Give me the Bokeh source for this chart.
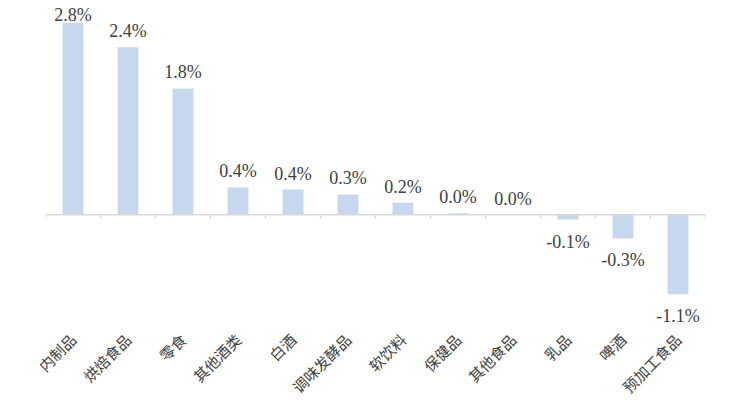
from bokeh.plotting import figure
from bokeh.models import ColumnDataSource, FixedTicker, Span, Range1d, LabelSet
from bokeh.embed import file_html
from bokeh.resources import INLINE
import math

# categories and growth values (%)
categories = ["内制品", "烘焙食品", "零食", "其他酒类", "白酒", "调味发酵品",
              "软饮料", "保健品", "其他食品", "乳品", "啤酒", "预加工食品"]
values = [2.75, 2.40, 1.81, 0.39, 0.36, 0.29, 0.17, 0.02, 0.0, -0.07, -0.34, -1.14]
labels = ["2.8%", "2.4%", "1.8%", "0.4%", "0.4%", "0.3%",
          "0.2%", "0.0%", "0.0%", "-0.1%", "-0.3%", "-1.1%"]

ymin, ymax = -1.66, 3.07
xs = [i + 0.5 for i in range(len(categories))]
src = ColumnDataSource(dict(x=xs, top=values, label=labels))

# labels sit above positive bars, below negative ones;
# a label that would run off the top is pushed down onto its bar
pos = [i for i in range(len(values)) if values[i] >= 0]
neg = [i for i in range(len(values)) if values[i] < 0]
pos_off = []
for i in pos:
    room = (ymax - values[i]) * 70
    pos_off.append(6 if room > 6 + 26 else 20 - room)
src_pos = ColumnDataSource(dict(x=[xs[i] for i in pos], y=[values[i] for i in pos],
                                label=[labels[i] for i in pos], off=pos_off))
src_neg = ColumnDataSource(dict(x=[xs[i] for i in neg], y=[values[i] for i in neg],
                                label=[labels[i] for i in neg]))

p = figure(width=743, height=407, output_backend="svg", toolbar_location=None,
           tools="", x_range=Range1d(0, len(categories)), y_range=Range1d(ymin, ymax))
p.min_border_left = 45
p.min_border_right = 38
p.min_border_top = 0
p.min_border_bottom = 0
p.outline_line_color = None
p.grid.visible = False
p.yaxis.visible = False

p.vbar(x="x", top="top", bottom=0, width=0.38, source=src,
       fill_color="#c6d7ee", line_color=None)

# zero line with little ticks between the categories
p.add_layout(Span(location=0, dimension="width", line_color="#d9d9d9", line_width=1.5))
bounds = list(range(len(categories) + 1))
p.segment(x0=bounds, x1=bounds, y0=[0] * len(bounds), y1=[-0.06] * len(bounds),
          line_color="#d9d9d9", line_width=1.5)

p.add_layout(LabelSet(x="x", y="y", text="label", source=src_pos, text_align="center",
                      text_baseline="bottom", y_offset="off", text_font="Liberation Serif",
                      text_font_size="18px", text_color="#404040"))
p.add_layout(LabelSet(x="x", y="y", text="label", source=src_neg, text_align="center",
                      text_baseline="top", y_offset=-12, text_font="Liberation Serif",
                      text_font_size="18px", text_color="#404040"))

ax = p.xaxis[0]
ax.ticker = FixedTicker(ticks=xs)
ax.major_label_overrides = {x: c for x, c in zip(xs, categories)}
ax.major_label_orientation = math.pi / 4
ax.axis_line_color = None
ax.major_tick_line_color = None
ax.minor_tick_line_color = None
ax.major_label_standoff = 0
ax.major_label_text_font = "Noto Sans CJK SC"
ax.major_label_text_font_size = "15px"
ax.major_label_text_color = "#404040"

open("out.html", "w").write(file_html(p, INLINE))
